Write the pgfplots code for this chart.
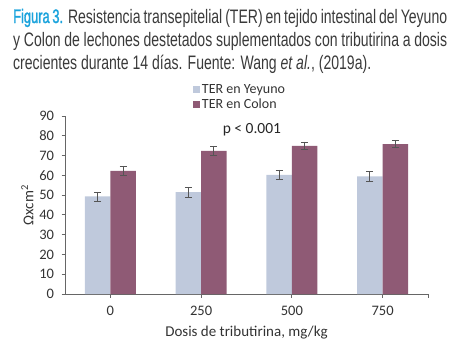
\documentclass[border=0pt]{standalone}
\usepackage{pgfplots}
\pgfplotsset{compat=1.18}
\usepackage{fontspec}
\setmainfont{Carlito}
\newfontfamily\capfont[FakeStretch=0.72]{Liberation Sans}
\newfontfamily\capfontb[FakeStretch=0.66,FakeBold=1.5]{Liberation Sans}
\definecolor{yey}{HTML}{BFC9DC}
\definecolor{col}{HTML}{8F5A75}
\definecolor{errc}{HTML}{555555}
\definecolor{capblue}{HTML}{1BA3DC}
\definecolor{captxt}{HTML}{3A3A3A}
\begin{document}
\begin{tikzpicture}[x=1bp,y=1bp]
\path[use as bounding box] (0,0) rectangle (450,352);
\begin{scope}[font=\capfont\fontsize{19.5bp}{23bp}\selectfont, text=captxt]
\node[anchor=base west, inner sep=0] at (13,352-23) {\makebox[434bp][s]{{\capfontb\color{capblue}Figura 3.} Resistencia transepitelial (TER) en tejido intestinal del Yeyuno}};
\node[anchor=base west, inner sep=0] at (13,352-46.5) {\makebox[434bp][s]{y Colon de lechones destetados suplementados con tributirina a dosis}};
\node[anchor=base west, inner sep=0] at (13,352-69) {crecientes durante 14 días. Fuente: Wang \textit{et al.}, (2019a).};
\end{scope}
\begin{axis}[
  at={(65bp,58bp)}, anchor=south west,
  scale only axis, width=363bp, height=178bp,
  ybar=0pt, bar width=25.5bp,
  xmin=-0.5, xmax=3.5, ymin=0, ymax=90,
  xtick={0,1,2,3}, xticklabels={0,250,500,750},
  extra x ticks={3.5}, extra x tick labels={},
  ytick={0,10,...,90},
  axis x line=bottom, axis y line=left,
  axis line style={draw=black!60, line width=0.8bp, -},
  tick style={draw=black!60, line width=0.8bp},
  tick align=outside, major tick length=3.5bp,
  x tick style={draw=black!60},
  tick label style={font=\fontsize{14.5bp}{16bp}\selectfont, text=black!80},
  /pgf/number format/assume math mode=true,
  xticklabel style={yshift=-5bp},
  yticklabel style={xshift=-4bp},
  xlabel={Dosis de tributirina, mg/kg},
  ylabel={Ωxcm\textsuperscript{2}},
  label style={font=\fontsize{15bp}{17bp}\selectfont, text=black!80},
  xlabel style={yshift=3bp},
  ylabel style={yshift=-1bp},
  legend style={at={(0.352,1.19)}, anchor=north west, draw=none, fill=none,
    font=\fontsize{14bp}{16bp}\selectfont, text=black!80, inner sep=0pt,
    cells={anchor=west}, row sep=0bp},
  legend image code/.code={\fill[#1,draw=none] (0bp,-3.5bp) rectangle (7bp,3.5bp);},
  error bars/error bar style={color=errc, line width=0.8bp},
  error bars/error mark options={rotate=90, mark size=3.5bp, color=errc, line width=0.8bp},
]
\addplot[fill=yey, draw=none, error bars/.cd, y dir=both, y explicit]
  coordinates {(0,49.3) +- (0,2.3) (1,51.5) +- (0,2.5) (2,60.2) +- (0,2.5) (3,59.5) +- (0,2.5)};
\addplot[fill=col, draw=none, error bars/.cd, y dir=both, y explicit]
  coordinates {(0,62.3) +- (0,2.2) (1,72.4) +- (0,2.2) (2,74.9) +- (0,2.0) (3,75.8) +- (0,1.8)};
\legend{TER en Yeyuno, TER en Colon}
\node[font=\fontsize{15.5bp}{17bp}\selectfont, text=black!85] at (axis cs:1.56,83) {p < 0.001};
\end{axis}
\end{tikzpicture}
\end{document}
